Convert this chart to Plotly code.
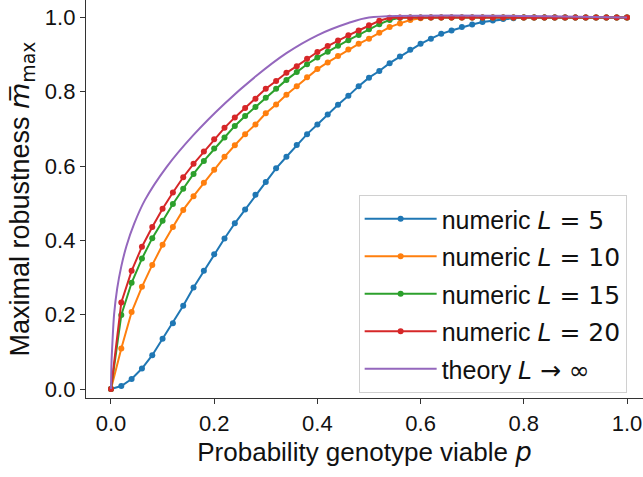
import plotly.graph_objects as go

# Probability that a genotype is viable
p = [0.00, 0.02, 0.04, 0.06, 0.08, 0.10, 0.12, 0.14, 0.16, 0.18,
     0.20, 0.22, 0.24, 0.26, 0.28, 0.30, 0.32, 0.34, 0.36, 0.38,
     0.40, 0.42, 0.44, 0.46, 0.48, 0.50, 0.52, 0.54, 0.56, 0.58,
     0.60, 0.62, 0.64, 0.66, 0.68, 0.70, 0.72, 0.74, 0.76, 0.78,
     0.80, 0.82, 0.84, 0.86, 0.88, 0.90, 0.92, 0.94, 0.96, 0.98, 1.00]

# Numeric maximal robustness for several genome lengths L
m_L5 = [0.000, 0.008, 0.027, 0.055, 0.091, 0.135, 0.177, 0.224, 0.273, 0.318,
        0.363, 0.405, 0.446, 0.483, 0.523, 0.557, 0.594, 0.625, 0.657, 0.686,
        0.712, 0.739, 0.765, 0.789, 0.815, 0.838, 0.856, 0.877, 0.895, 0.913,
        0.929, 0.943, 0.956, 0.965, 0.974, 0.981, 0.988, 0.992, 0.996, 0.998,
        1.000, 1.000, 1.000, 1.000, 1.000, 1.000, 1.000, 1.000, 1.000, 1.000, 1.000]
m_L10 = [0.000, 0.109, 0.207, 0.275, 0.334, 0.388, 0.436, 0.482, 0.519, 0.555,
         0.590, 0.625, 0.656, 0.686, 0.712, 0.742, 0.766, 0.792, 0.815, 0.839,
         0.861, 0.879, 0.896, 0.914, 0.929, 0.943, 0.959, 0.974, 0.984, 0.993,
         0.998, 1.000, 1.000, 1.000, 1.000, 1.000, 1.000, 1.000, 1.000, 1.000,
         1.000, 1.000, 1.000, 1.000, 1.000, 1.000, 1.000, 1.000, 1.000, 1.000, 1.000]
m_L15 = [0.000, 0.199, 0.286, 0.351, 0.406, 0.453, 0.498, 0.539, 0.579, 0.614,
         0.647, 0.677, 0.708, 0.735, 0.759, 0.784, 0.808, 0.832, 0.853, 0.874,
         0.892, 0.908, 0.924, 0.939, 0.953, 0.968, 0.982, 0.993, 0.999, 1.000,
         1.000, 1.000, 1.000, 1.000, 1.000, 1.000, 1.000, 1.000, 1.000, 1.000,
         1.000, 1.000, 1.000, 1.000, 1.000, 1.000, 1.000, 1.000, 1.000, 1.000, 1.000]
m_L20 = [0.000, 0.233, 0.318, 0.383, 0.436, 0.485, 0.529, 0.570, 0.606, 0.639,
         0.672, 0.703, 0.731, 0.756, 0.781, 0.808, 0.829, 0.851, 0.869, 0.889,
         0.907, 0.923, 0.938, 0.952, 0.965, 0.979, 0.991, 0.999, 1.000, 1.000,
         1.000, 1.000, 1.000, 1.000, 1.000, 1.000, 1.000, 1.000, 1.000, 1.000,
         1.000, 1.000, 1.000, 1.000, 1.000, 1.000, 1.000, 1.000, 1.000, 1.000, 1.000]

# Infinite-L theory curve
p_theory = [0.0, 0.001, 0.003, 0.006, 0.012, 0.020, 0.030, 0.045, 0.066,
            0.108, 0.160, 0.220, 0.280, 0.340, 0.400, 0.460, 0.500, 1.000]
m_theory = [0.0, 0.070, 0.130, 0.200, 0.270, 0.330, 0.385, 0.445, 0.509,
            0.598, 0.684, 0.768, 0.841, 0.904, 0.952, 0.985, 1.000, 1.000]

L_values = ["5", "10", "15", "20"]
numeric_series = [m_L5, m_L10, m_L15, m_L20]
colors = ["#1f77b4", "#ff7f0e", "#2ca02c", "#d62728", "#9467bd"]

MATH = "font-family:'DejaVu Sans'"
FONT = "Liberation Sans, Arial, sans-serif"

fig = go.Figure()
for i, (L, m) in enumerate(zip(L_values, numeric_series)):
    fig.add_trace(go.Scatter(
        x=p, y=m, mode="lines+markers",
        name=f"numeric <span style=\"{MATH}\"><i>L</i> = {L}</span>",
        legendgroup=f"g{i}",
        line=dict(color=colors[i], width=2),
        marker=dict(color=colors[i], size=6),
    ))

fig.add_trace(go.Scatter(
    x=p_theory, y=m_theory, mode="lines",
    name=f"theory <span style=\"{MATH}\"><i>L</i> → ∞</span>",
    legendgroup="g4",
    line=dict(color=colors[4], width=2, shape="spline", smoothing=0.8),
))

axis_common = dict(
    showline=True, linecolor="#333333", linewidth=1.3,
    ticks="outside", ticklen=5, tickwidth=1.2, tickcolor="#333333",
    showgrid=False, zeroline=False, mirror=False,
    tickfont=dict(family=FONT, size=22, color="#111111"),
)

fig.update_layout(
    width=643, height=477,
    margin=dict(l=86, r=0, t=0, b=79),
    paper_bgcolor="white", plot_bgcolor="white",
    font=dict(family=FONT, color="#111111"),
    xaxis=dict(
        range=[-0.0484, 1.031],
        tickvals=[0.0, 0.2, 0.4, 0.6, 0.8, 1.0],
        ticktext=["0.0", "0.2", "0.4", "0.6", "0.8", "1.0"],
        title=dict(text=f"Probability genotype viable <span style=\"{MATH}\"><i>p</i></span>",
                   font=dict(family=FONT, size=26), standoff=8),
        **axis_common,
    ),
    yaxis=dict(
        range=[-0.0242, 1.047],
        tickvals=[0.0, 0.2, 0.4, 0.6, 0.8, 1.0],
        ticktext=["0.0", "0.2", "0.4", "0.6", "0.8", "1.0"],
        title=dict(text=f"Maximal robustness <span style=\"{MATH}\"><i>m\u0305</i><sub>max</sub></span>",
                   font=dict(family=FONT, size=27), standoff=7),
        **axis_common,
    ),
    legend=dict(
        x=0.4895, y=0.51, xanchor="left", yanchor="top",
        bgcolor="rgba(255,255,255,0.85)", bordercolor="#d0d0d0", borderwidth=1,
        font=dict(family=FONT, size=25, color="#111111"),
        tracegroupgap=2, itemwidth=72,
    ),
    showlegend=True,
)

fig.write_html("out.html")
